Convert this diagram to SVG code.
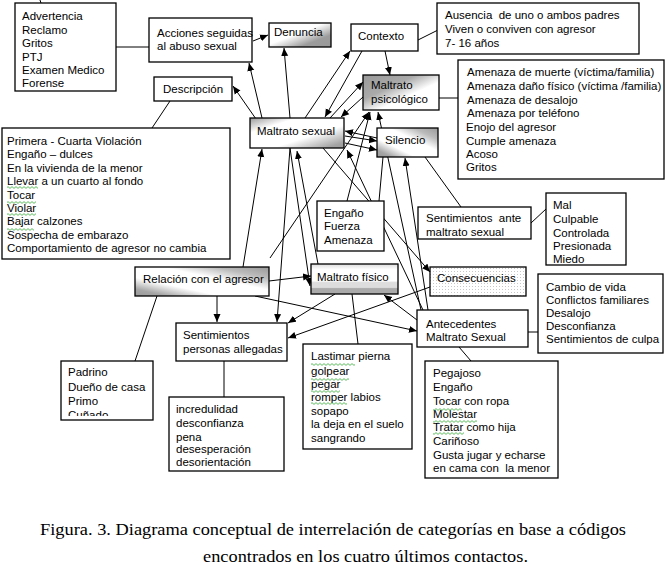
<svg xmlns="http://www.w3.org/2000/svg" width="667" height="568" viewBox="0 0 667 568">
<style>
.box{fill:#fff;stroke:#000;stroke-width:1.3}
.t{font-family:"Liberation Sans",Arial,sans-serif;font-size:11.5px;fill:#000}
.c{stroke:#000;stroke-width:1;fill:none}
.a{marker-end:url(#ah)}
.w{fill:url(#wave)}
.cap{font-family:"Liberation Serif","Times New Roman",serif;font-size:17.5px;fill:#000}
</style>
<defs>
<marker id="ah" markerUnits="userSpaceOnUse" markerWidth="9" markerHeight="8" refX="8" refY="4" orient="auto"><path d="M0,0.5 L8,4 L0,7.5 z" fill="#000"/></marker>
<pattern id="wave" width="4" height="3" patternUnits="userSpaceOnUse"><path d="M0,0.6 L2,2.4 L4,0.6" stroke="#33a833" stroke-width="0.8" fill="none"/></pattern>
<pattern id="dots" width="3" height="3" patternUnits="userSpaceOnUse"><rect width="3" height="3" fill="#fff"/><rect x="1" y="1" width="1" height="1" fill="#c8c8c8"/></pattern>
<linearGradient id="gMS" x1="0" y1="0" x2="1" y2="1"><stop offset="0" stop-color="#9a9a9a"/><stop offset="0.25" stop-color="#fff"/><stop offset="0.62" stop-color="#fff"/><stop offset="0.9" stop-color="#a5a5a5"/><stop offset="1" stop-color="#9a9a9a"/></linearGradient>
<linearGradient id="gDen" x1="0" y1="0" x2="1" y2="1"><stop offset="0" stop-color="#fff"/><stop offset="0.45" stop-color="#fff"/><stop offset="0.75" stop-color="#9c9c9c"/><stop offset="1" stop-color="#999"/></linearGradient>
<linearGradient id="gPsi" x1="0" y1="0" x2="1" y2="1"><stop offset="0" stop-color="#999"/><stop offset="0.35" stop-color="#aaa"/><stop offset="0.6" stop-color="#fff"/><stop offset="1" stop-color="#fff"/></linearGradient>
<linearGradient id="gSil" x1="1" y1="0" x2="0" y2="1"><stop offset="0" stop-color="#999"/><stop offset="0.2" stop-color="#bbb"/><stop offset="0.4" stop-color="#fff"/><stop offset="0.68" stop-color="#fff"/><stop offset="0.88" stop-color="#a5a5a5"/><stop offset="1" stop-color="#999"/></linearGradient>
<linearGradient id="gMF" x1="0" y1="0" x2="0" y2="1"><stop offset="0" stop-color="#ddd"/><stop offset="0.18" stop-color="#fff"/><stop offset="0.56" stop-color="#fff"/><stop offset="0.62" stop-color="#ddd"/><stop offset="0.78" stop-color="#ddd"/><stop offset="0.82" stop-color="#aaa"/><stop offset="1" stop-color="#aaa"/></linearGradient>
<clipPath id="clipPad"><rect x="61" y="361" width="92" height="55"/></clipPath>
</defs>
<rect width="667" height="568" fill="#fff"/>

<g id="connectors">
<line class="c" x1="40" y1="0" x2="41" y2="3"/>
<line class="c" x1="116" y1="47" x2="149" y2="47"/>
<line class="c a" x1="253" y1="41" x2="268" y2="35"/>
<line class="c" x1="418" y1="40" x2="440" y2="29"/>
<line class="c" x1="439" y1="98" x2="458" y2="98"/>
<line class="c" x1="170" y1="101" x2="152" y2="128"/>
<line class="c a" x1="262" y1="118" x2="249" y2="63"/>
<line class="c a" x1="256" y1="119" x2="233" y2="86"/>
<line class="c a" x1="290" y1="118" x2="284" y2="48"/>
<line class="c a" x1="305" y1="118" x2="350" y2="51"/>
<line class="c a" x1="362" y1="51" x2="325" y2="117"/>
<line class="c a" x1="385" y1="51" x2="390" y2="75"/>
<line class="c a" x1="330" y1="118" x2="363" y2="82"/>
<line class="c a" x1="363" y1="97" x2="341" y2="117"/>
<line class="c a" x1="377" y1="138" x2="345" y2="131"/>
<line class="c a" x1="345" y1="136" x2="377" y2="141"/>
<line class="c a" x1="345" y1="143" x2="377" y2="150"/>
<line class="c a" x1="243" y1="267" x2="262" y2="149"/>
<line class="c a" x1="290" y1="148" x2="277" y2="322"/>
<line class="c a" x1="290" y1="148" x2="310" y2="286"/>
<line class="c a" x1="269" y1="281" x2="311" y2="276"/>
<line class="c a" x1="318" y1="264" x2="297" y2="151"/>
<line class="c a" x1="323" y1="148" x2="430" y2="272"/>
<line class="c a" x1="270" y1="258" x2="369" y2="112"/>
<line class="c a" x1="347" y1="201" x2="370" y2="112"/>
<line class="c a" x1="423" y1="310" x2="347" y2="150"/>
<line class="c" x1="379" y1="201" x2="383" y2="157"/>
<line class="c a" x1="421" y1="310" x2="378" y2="112"/>
<line class="c a" x1="428" y1="310" x2="405" y2="158"/>
<line class="c" x1="425" y1="157" x2="461" y2="207"/>
<line class="c a" x1="255" y1="296" x2="417" y2="331"/>
<line class="c a" x1="417" y1="320" x2="384" y2="295"/>
<line class="c a" x1="335" y1="294" x2="288" y2="323"/>
<line class="c a" x1="430" y1="287" x2="288" y2="338"/>
<line class="c a" x1="217" y1="296" x2="217" y2="322"/>
<line class="c" x1="352" y1="294" x2="358" y2="344"/>
<line class="c" x1="459" y1="347" x2="471" y2="361"/>
<line class="c" x1="528" y1="332" x2="538" y2="332"/>
<line class="c" x1="531" y1="223" x2="546" y2="209"/>
<line class="c" x1="157" y1="296" x2="135" y2="361"/>
<line class="c" x1="224" y1="361" x2="224" y2="397"/>
</g>

<g id="advertencia">
<rect class="box" x="15" y="3" width="101" height="88"/>
<text class="t" x="22" y="20">Advertencia</text>
<text class="t" x="22" y="33.5">Reclamo</text>
<text class="t" x="22" y="47">Gritos</text>
<text class="t" x="22" y="60.5">PTJ</text>
<text class="t" x="22" y="74">Examen Medico</text>
<text class="t" x="22" y="87">Forense</text>
</g>

<g id="acciones">
<rect class="box" x="149" y="18" width="103" height="44"/>
<text class="t" x="157" y="37">Acciones seguidas</text>
<text class="t" x="157" y="50">al abuso sexual</text>
</g>

<g id="denuncia">
<rect class="box" x="269" y="23" width="62" height="24" style="fill:url(#gDen)"/>
<text class="t" x="274" y="36">Denuncia</text>
</g>

<g id="contexto">
<rect class="box" x="351" y="24" width="67" height="27"/>
<text class="t" x="358" y="40">Contexto</text>
</g>

<g id="ausencia">
<rect class="box" x="437" y="3" width="202" height="51"/>
<text class="t" x="445" y="19" xml:space="preserve">Ausencia  de uno o ambos padres</text>
<text class="t" x="445" y="33">Viven o conviven con agresor</text>
<text class="t" x="445" y="47">7- 16 años</text>
</g>

<g id="maltrato-psicologico">
<rect class="box" x="363" y="75" width="76" height="35" style="fill:url(#gPsi)"/>
<text class="t" x="371" y="89">Maltrato</text>
<text class="t" x="371" y="103">psicológico</text>
</g>

<g id="amenazas">
<rect class="box" x="458" y="60" width="206" height="119"/>
<text class="t" x="467" y="76">Amenaza de muerte (víctima/familia)</text>
<text class="t" x="467" y="90">Amenaza daño físico (víctima /familia)</text>
<text class="t" x="467" y="103.5">Amenaza de desalojo</text>
<text class="t" x="467" y="117">Amenaza por teléfono</text>
<text class="t" x="466" y="131">Enojo del agresor</text>
<text class="t" x="466" y="144.5">Cumple amenaza</text>
<text class="t" x="466" y="158">Acoso</text>
<text class="t" x="466" y="171">Gritos</text>
</g>

<g id="descripcion">
<rect class="box" x="154" y="77" width="78" height="24"/>
<text class="t" x="163" y="93">Descripción</text>
</g>

<g id="primera">
<rect class="box" x="2" y="128" width="228" height="131"/>
<text class="t" x="7" y="145">Primera - Cuarta Violación</text>
<text class="t" x="7" y="158">Engaño – dulces</text>
<text class="t" x="7" y="171.5">En la vivienda de la menor</text>
<text class="t" x="7" y="185">Llevar a un cuarto al fondo</text>
<text class="t" x="7" y="198.5">Tocar</text>
<text class="t" x="7" y="211.5">Violar</text>
<text class="t" x="7" y="225">Bajar calzones</text>
<text class="t" x="7" y="238.5">Sospecha de embarazo</text>
<text class="t" x="7" y="252">Comportamiento de agresor no cambia</text>
<rect class="w" x="7" y="186" width="31" height="3"/>
<rect class="w" x="7" y="201" width="29" height="3"/>
<rect class="w" x="7" y="213" width="29" height="3"/>
<rect class="w" x="7" y="228" width="27" height="3"/>
</g>

<g id="maltrato-sexual">
<rect class="box" x="250" y="118" width="94" height="30" style="fill:url(#gMS)"/>
<text class="t" x="257" y="135">Maltrato sexual</text>
</g>

<g id="silencio">
<rect class="box" x="377" y="128" width="61" height="29" style="fill:url(#gSil)"/>
<text class="t" x="385" y="144">Silencio</text>
</g>

<g id="engano">
<rect class="box" x="317" y="201" width="67" height="50"/>
<text class="t" x="324" y="217">Engaño</text>
<text class="t" x="324" y="230">Fuerza</text>
<text class="t" x="324" y="243.5">Amenaza</text>
</g>

<g id="sentimientos-ante">
<rect class="box" x="418" y="207" width="113" height="32"/>
<text class="t" x="426" y="222" xml:space="preserve">Sentimientos  ante</text>
<text class="t" x="426" y="236">maltrato sexual</text>
</g>

<g id="mal">
<rect class="box" x="546" y="193" width="80" height="72"/>
<text class="t" x="553" y="209">Mal</text>
<text class="t" x="553" y="223">Culpable</text>
<text class="t" x="553" y="236.5">Controlada</text>
<text class="t" x="553" y="250">Presionada</text>
<text class="t" x="553" y="262.5">Miedo</text>
</g>

<g id="maltrato-fisico">
<rect class="box" x="311" y="264" width="87" height="30" style="fill:url(#gMF)"/>
<text class="t" x="317" y="281">Maltrato físico</text>
</g>

<g id="consecuencias">
<rect class="box" x="430" y="267" width="96" height="29" style="fill:url(#dots)"/>
<text class="t" x="437" y="282">Consecuencias</text>
</g>

<g id="cambio">
<rect class="box" x="538" y="274" width="125" height="79"/>
<text class="t" x="546" y="291">Cambio de vida</text>
<text class="t" x="546" y="303.5">Conflictos familiares</text>
<text class="t" x="546" y="317">Desalojo</text>
<text class="t" x="546" y="330">Desconfianza</text>
<text class="t" x="546" y="343">Sentimientos de culpa</text>
</g>

<g id="antecedentes">
<rect class="box" x="417" y="310" width="111" height="37"/>
<text class="t" x="426" y="328">Antecedentes</text>
<text class="t" x="426" y="341">Maltrato Sexual</text>
</g>

<g id="relacion">
<rect class="box" x="135" y="267" width="134" height="29" style="fill:url(#gSil)"/>
<text class="t" x="143" y="283">Relación con el agresor</text>
</g>

<g id="sentimientos-allegadas">
<rect class="box" x="176" y="323" width="111" height="38"/>
<text class="t" x="183" y="339">Sentimientos</text>
<text class="t" x="183" y="353">personas allegadas</text>
</g>

<g id="padrino">
<rect class="box" x="61" y="361" width="92" height="59"/>
<g clip-path="url(#clipPad)">
<text class="t" x="68" y="376">Padrino</text>
<text class="t" x="68" y="390.5">Dueño de casa</text>
<text class="t" x="68" y="405">Primo</text>
<text class="t" x="68" y="419">Cuñado</text>
</g>
</g>

<g id="incredulidad">
<rect class="box" x="169" y="397" width="115" height="74"/>
<text class="t" x="176" y="413">incredulidad</text>
<text class="t" x="176" y="427">desconfianza</text>
<text class="t" x="176" y="440.5">pena</text>
<text class="t" x="176" y="453">desesperación</text>
<text class="t" x="176" y="466">desorientación</text>
</g>

<g id="lastimar">
<rect class="box" x="303" y="344" width="109" height="105"/>
<text class="t" x="311" y="360">Lastimar pierna</text>
<text class="t" x="311" y="375">golpear</text>
<text class="t" x="311" y="388">pegar</text>
<text class="t" x="311" y="401">romper labios</text>
<text class="t" x="311" y="415">sopapo</text>
<text class="t" x="311" y="428">la deja en el suelo</text>
<text class="t" x="311" y="442">sangrando</text>
<rect class="w" x="311" y="363" width="44" height="3"/>
<rect class="w" x="311" y="378" width="38" height="3"/>
<rect class="w" x="311" y="390" width="29" height="3"/>
<rect class="w" x="311" y="402" width="36" height="3"/>
</g>

<g id="pegajoso">
<rect class="box" x="425" y="361" width="133" height="117"/>
<text class="t" x="433" y="377">Pegajoso</text>
<text class="t" x="433" y="391">Engaño</text>
<text class="t" x="433" y="405">Tocar con ropa</text>
<text class="t" x="433" y="417.5">Molestar</text>
<text class="t" x="433" y="431">Tratar como hija</text>
<text class="t" x="433" y="445">Cariñoso</text>
<text class="t" x="433" y="459">Gusta jugar y echarse</text>
<text class="t" x="433" y="471.5" xml:space="preserve">en cama con  la menor</text>
<rect class="w" x="433" y="408" width="29" height="3"/>
<rect class="w" x="433" y="420" width="44" height="3"/>
<rect class="w" x="433" y="432" width="31" height="3"/>
</g>

<g id="caption">
<text class="cap" x="40" y="535" textLength="586" lengthAdjust="spacingAndGlyphs">Figura. 3. Diagrama conceptual de interrelación de categorías en base a códigos</text>
<text class="cap" x="203" y="562" textLength="325" lengthAdjust="spacingAndGlyphs">encontrados en los cuatro últimos contactos.</text>
</g>
</svg>
